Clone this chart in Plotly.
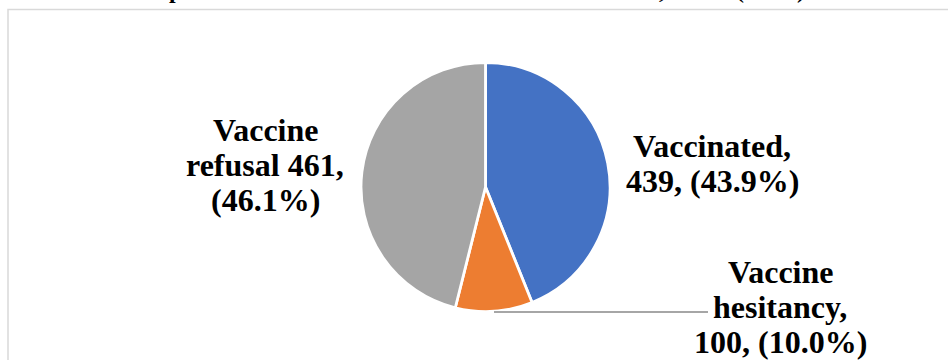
import plotly.graph_objects as go

# ---- data ----
categories = ["Vaccinated", "Vaccine hesitancy", "Vaccine refusal"]
counts = [439, 100, 461]
percents = [43.9, 10.0, 46.1]
colors = ["#4472C4", "#ED7D31", "#A5A5A5"]

# data label lines (as broken in the original chart)
label_lines = [
    ["Vaccinated,", f"{counts[0]}, ({percents[0]:.1f}%)"],
    ["Vaccine", "hesitancy,", f"{counts[1]}, ({percents[1]:.1f}%)"],
    ["Vaccine", f"refusal {counts[2]},", f"({percents[2]:.1f}%)"],
]
label_centers = [(712, 146), (780, 272), (265, 130)]  # px: x centre, y of first line
line_step = 35

# cropped title fragments visible at top edge
title_frags = ["p", ",", "(", ")"]
title_frag_x = [175, 662, 740, 801]

W, H = 948, 360
FONT = "Liberation Serif, Times New Roman, serif"

fig = go.Figure()
fig.add_trace(go.Pie(
    labels=categories,
    values=counts,
    sort=False,
    direction="clockwise",
    rotation=0,
    marker=dict(colors=colors, line=dict(color="white", width=2.8)),
    textinfo="none",
    hoverinfo="label+value+percent",
    showlegend=False,
    domain=dict(x=[361 / W, 610 / W], y=[48.5 / H, 297.5 / H]),
))

annotations = []
for lines, (cx, cy) in zip(label_lines, label_centers):
    for i, t in enumerate(lines):
        annotations.append(dict(
            text=f"<b>{t}</b>", x=cx / W, y=1 - (cy + i * line_step) / H,
            xref="paper", yref="paper", xanchor="center", yanchor="middle",
            showarrow=False, font=dict(family=FONT, size=32, color="black"),
        ))
for t, x in zip(title_frags, title_frag_x):
    annotations.append(dict(
        text=f"<b>{t}</b>", x=x / W, y=1 - 5 / H,
        xref="paper", yref="paper", xanchor="center", yanchor="bottom",
        showarrow=False, font=dict(family=FONT, size=24, color="black"),
    ))

shapes = [
    # chart area border
    dict(type="rect", xref="paper", yref="paper",
         x0=8 / W, x1=1.05, y0=-0.05, y1=1 - 9.5 / H,
         line=dict(color="#D9D9D9", width=1.5), fillcolor="rgba(0,0,0,0)"),
    # leader line for hesitancy label
    dict(type="line", xref="paper", yref="paper",
         x0=494 / W, x1=708 / W, y0=1 - 312 / H, y1=1 - 312 / H,
         line=dict(color="#A6A6A6", width=1.8)),
]

fig.update_layout(
    width=W, height=H,
    margin=dict(l=0, r=0, t=0, b=0),
    paper_bgcolor="white", plot_bgcolor="white",
    annotations=annotations, shapes=shapes,
)
fig.write_html(
    "out.html",
    config={"displayModeBar": False},
    post_script="document.body.style.margin='0';document.body.style.overflow='hidden';",
)
